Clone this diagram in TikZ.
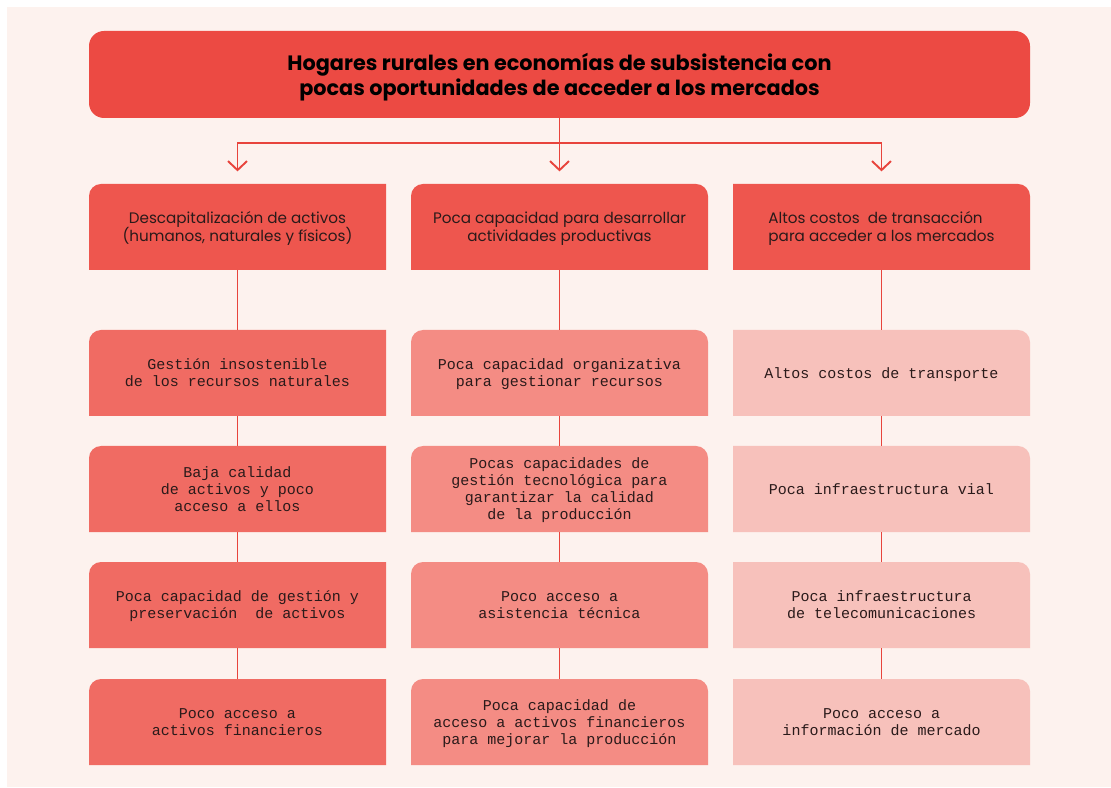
\documentclass[tikz,border=0pt]{standalone}
\usepackage{fontspec}
\setmainfont{Poppins}
\setmonofont{Liberation Mono}
\usetikzlibrary{arrows.meta,backgrounds}
\definecolor{bgpink}{HTML}{FDF2EE}
\definecolor{titlered}{HTML}{EC4A43}
\definecolor{hdrred}{HTML}{EE564E}
\definecolor{subA}{HTML}{F06B63}
\definecolor{subB}{HTML}{F48C84}
\definecolor{subC}{HTML}{F7C1BB}
\definecolor{lnred}{HTML}{E8443C}
\definecolor{txt}{HTML}{2A1A1A}
\def\rr{6pt}
\newcommand\tightlines{\setlength{\lineskiplimit}{-20pt}\setlength{\lineskip}{0pt}}
\newcommand\fillTL[2]{\fill[#2] (#1.south west) -- ([yshift=-\rr]#1.north west) arc[start angle=180,end angle=90,radius=\rr] -- (#1.north east) -- (#1.south east) -- cycle;}
\newcommand\fillTR[2]{\fill[#2] (#1.south west) -- (#1.north west) -- ([xshift=-\rr]#1.north east) arc[start angle=90,end angle=0,radius=\rr] -- (#1.south east) -- cycle;}
\newcommand\fillTT[2]{\fill[#2] (#1.south west) -- ([yshift=-\rr]#1.north west) arc[start angle=180,end angle=90,radius=\rr] -- ([xshift=-\rr]#1.north east) arc[start angle=90,end angle=0,radius=\rr] -- (#1.south east) -- cycle;}
\tikzset{
  hdr/.style={minimum width=148.5pt,minimum height=43pt,inner sep=0pt,outer sep=0pt,
    font=\fontsize{7.6}{9}\selectfont\tightlines,text=txt,align=center,text depth=0pt},
  sub/.style={hdr,font=\ttfamily\fontsize{7.5}{8.5}\selectfont\tightlines},
  conn/.style={draw=lnred,line width=0.95pt},
  arr/.style={conn,-{Straight Barb[length=4.5pt,width=9.5pt,line width=0.95pt]},shorten >=6.3pt},
}
\begin{document}
\begin{tikzpicture}[x=0.5pt,y=0.5pt]
\useasboundingbox (0,0) rectangle (1111,787);
% title
\node[minimum width=470.5pt,minimum height=43.5pt,inner sep=0pt,outer sep=0pt,
  fill=titlered,rounded corners=7.5pt,text=black,align=center,text depth=0pt,
  font=\bfseries\fontsize{10.4}{12.5}\selectfont\tightlines] (title) at (559.5,712.5)
  {Hogares rurales en economías de subsistencia con\\pocas oportunidades de acceder a los mercados};
% headers
\node[hdr] (h1) at (237.5,560) {Descapitalización de activos\\(humanos, naturales y físicos)};
\node[hdr] (h2) at (559.5,560) {Poca capacidad para desarrollar\\actividades productivas};
\node[hdr,align=left] (h3) at (881.5,560) {Altos costos\ \ de transacción\\para acceder a los mercados};
% column 1
\node[sub] (a1) at (237.5,414) {Gestión insostenible\\de los recursos naturales};
\node[sub] (a2) at (237.5,298) {Baja calidad\\de activos y poco\\acceso a ellos};
\node[sub] (a3) at (237.5,182) {Poca capacidad de gestión y\\preservación\ \ de activos};
\node[sub] (a4) at (237.5,65) {Poco acceso a\\activos financieros};
% column 2
\node[sub] (b1) at (559.5,414) {Poca capacidad organizativa\\para gestionar recursos};
\node[sub] (b2) at (559.5,298) {Pocas capacidades de\\gestión tecnológica para\\garantizar la calidad\\de la producción};
\node[sub] (b3) at (559.5,182) {Poco acceso a\\asistencia técnica};
\node[sub] (b4) at (559.5,65) {Poca capacidad de\\acceso a activos financieros\\para mejorar la producción};
% column 3
\node[sub] (c1) at (881.5,414) {Altos costos de transporte};
\node[sub] (c2) at (881.5,298) {Poca infraestructura vial};
\node[sub] (c3) at (881.5,182) {Poca infraestructura\\de telecomunicaciones};
\node[sub] (c4) at (881.5,65) {Poco acceso a\\información de mercado};
\begin{scope}[on background layer]
  \fill[white] (0,0) rectangle (1111,787);
  \fill[bgpink] (7,0) rectangle (1111,780);
  \fillTL{h1}{hdrred}\fillTT{h2}{hdrred}\fillTR{h3}{hdrred}
  \fillTL{a1}{subA}\fillTL{a2}{subA}\fillTL{a3}{subA}\fillTL{a4}{subA}
  \fillTT{b1}{subB}\fillTT{b2}{subB}\fillTT{b3}{subB}\fillTT{b4}{subB}
  \fillTR{c1}{subC}\fillTR{c2}{subC}\fillTR{c3}{subC}\fillTR{c4}{subC}
\end{scope}
% arrows
\coordinate (j) at (559.5,644);
\draw[conn] (title.south) -- (j);
\draw[arr] (j) -| (h1.north);
\draw[arr] (j) -| (h3.north);
\draw[arr] (title.south) -- (h2.north);
% connectors
\foreach \u/\v in {h1/a1,a1/a2,a2/a3,a3/a4,h2/b1,b1/b2,b2/b3,b3/b4,h3/c1,c1/c2,c2/c3,c3/c4}
  \draw[conn] (\u.south) -- (\v.north);
\end{tikzpicture}
\end{document}
